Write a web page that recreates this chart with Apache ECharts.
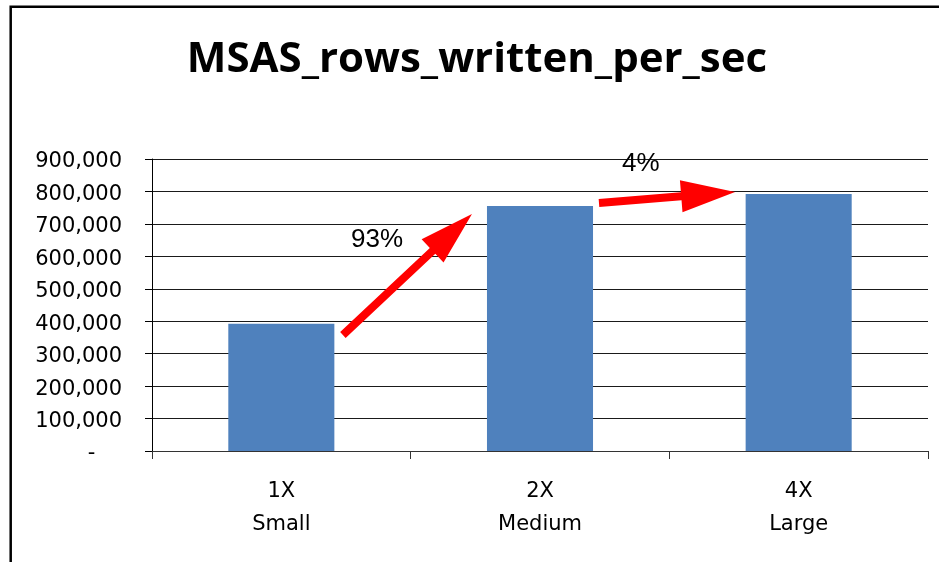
<!DOCTYPE html>
<html>
<head>
<meta charset="utf-8">
<script src="https://cdn.jsdelivr.net/npm/echarts@6/dist/echarts.min.js"></script>
<style>
html,body{margin:0;padding:0;background:#fff;}
#chart{width:939px;height:562px;}
</style>
</head>
<body>
<div id="chart"></div>
<script>
// ---- data ----
const titleText = 'MSAS_rows_written_per_sec';
const categories = ['1X\nSmall', '2X\nMedium', '4X\nLarge'];
const values = [392000, 755000, 792000];
const yMin = 0, yMax = 900000, yStep = 100000;
// annotation arrows, in data space: [category position, value]
const arrowFrom = [[0.238, 357600], [1.228, 764500]];
const arrowTo = [[0.737, 730600], [1.754, 798400]];
const arrowLabels = ['93%', '4%'];
const arrowLabelPos = [[0.37, 650400], [1.39, 884700]];

const chart = echarts.init(document.getElementById('chart'), null, {renderer: 'canvas'});

function fmt(v) {
  if (v === 0) return '-    ';
  return v.toString().replace(/\B(?=(\d{3})+(?!\d))/g, ',');
}

chart.setOption({
  animation: false,
  backgroundColor: '#ffffff',
  title: {
    text: titleText,
    left: 472,
    textAlign: 'center',
    top: 34,
    textStyle: {fontFamily: 'Open Sans', fontWeight: 'bold', fontSize: 42, color: '#000'}
  },
  grid: {left: 152, right: 11, top: 159, bottom: 111, containLabel: false, outerBoundsMode: 'none'},
  xAxis: {
    type: 'category',
    data: categories,
    boundaryGap: true,
    axisLine: {show: true, lineStyle: {color: '#333', width: 1}},
    axisTick: {show: true, alignWithLabel: false, length: 8, lineStyle: {color: '#333'}},
    axisLabel: {fontFamily: 'DejaVu Sans', fontSize: 21, color: '#000', lineHeight: 33, margin: 24, interval: 0},
    splitLine: {show: false}
  },
  yAxis: {
    type: 'value',
    min: yMin, max: yMax, interval: yStep,
    axisLine: {show: true, lineStyle: {color: '#000', width: 1}},
    axisTick: {show: true, inside: false, length: 7, lineStyle: {color: '#000'}},
    axisLabel: {fontFamily: 'DejaVu Sans', fontSize: 21, color: '#000', margin: 30, verticalAlign: 'top', lineHeight: 6, formatter: fmt},
    splitLine: {show: true, lineStyle: {color: '#1a1a1a', width: 1}}
  },
  series: [{
    type: 'bar',
    data: values,
    barWidth: '41%',
    itemStyle: {color: '#4F81BD'},
    silent: true
  }]
});

function toPx(pt) {
  const a = chart.convertToPixel({xAxisIndex: 0}, 0);
  const b = chart.convertToPixel({xAxisIndex: 0}, 1);
  const x = a + pt[0] * (b - a);
  const y = chart.convertToPixel({yAxisIndex: 0}, pt[1]);
  return [x, y];
}

function arrowPoints(T, P) {
  const headLen = 54, headHalf = 16, shaftHalf = 4;
  const dx = P[0] - T[0], dy = P[1] - T[1];
  const L = Math.sqrt(dx * dx + dy * dy);
  const ux = dx / L, uy = dy / L;
  const nx = -uy, ny = ux;
  const B = [P[0] - ux * headLen, P[1] - uy * headLen];
  return [
    [T[0] + nx * shaftHalf, T[1] + ny * shaftHalf],
    [B[0] + nx * shaftHalf, B[1] + ny * shaftHalf],
    [B[0] + nx * headHalf, B[1] + ny * headHalf],
    [P[0], P[1]],
    [B[0] - nx * headHalf, B[1] - ny * headHalf],
    [B[0] - nx * shaftHalf, B[1] - ny * shaftHalf],
    [T[0] - nx * shaftHalf, T[1] - ny * shaftHalf]
  ];
}

const graphics = [{
  type: 'polyline',
  silent: true,
  z: 100,
  shape: {points: [[10.7, 1000], [10.7, 6.8], [1100, 6.8]]},
  style: {stroke: '#000', lineWidth: 2.5, fill: null}
}];
for (let i = 0; i < arrowFrom.length; i++) {
  graphics.push({
    type: 'polygon', silent: true, z: 50,
    shape: {points: arrowPoints(toPx(arrowFrom[i]), toPx(arrowTo[i]))},
    style: {fill: '#FF0000', stroke: null}
  });
  const lp = toPx(arrowLabelPos[i]);
  graphics.push({
    type: 'text', silent: true, z: 50,
    x: lp[0], y: lp[1],
    style: {text: arrowLabels[i], fontFamily: 'Liberation Sans', fontSize: 26, fill: '#000', align: 'center', verticalAlign: 'middle'}
  });
}
chart.setOption({graphic: graphics});
</script>
</body>
</html>
